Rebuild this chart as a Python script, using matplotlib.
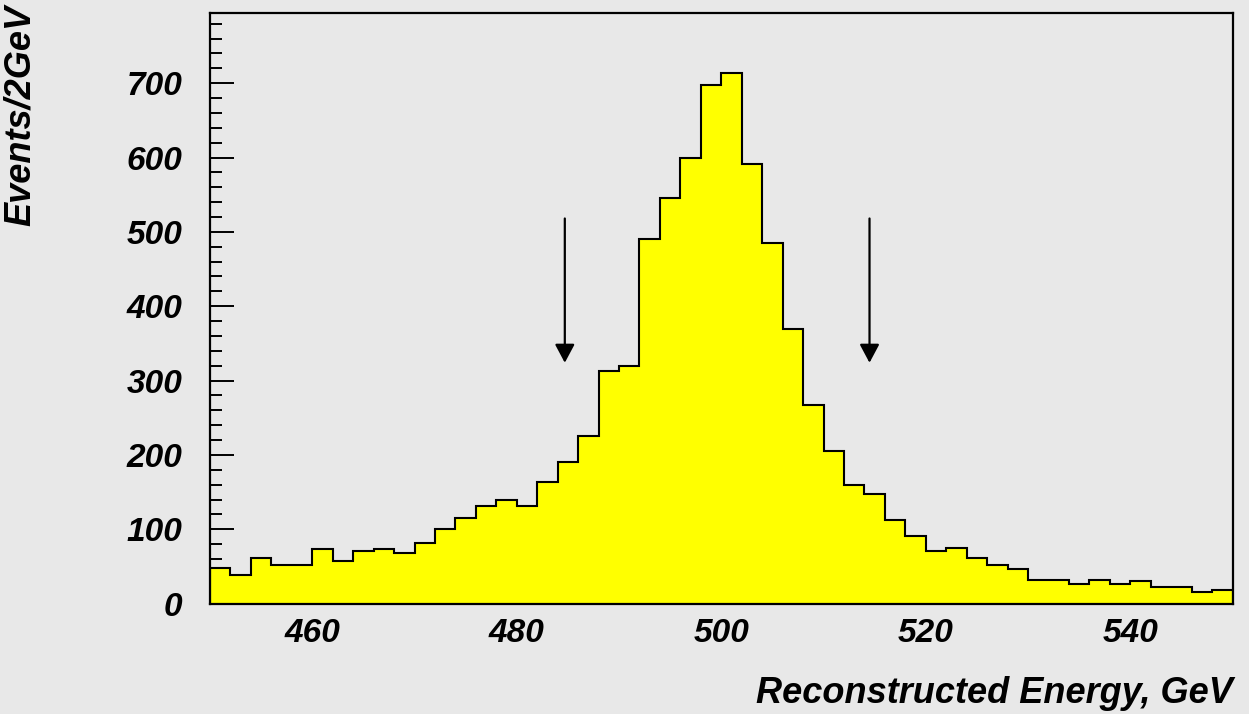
import matplotlib
matplotlib.use('Agg')
import matplotlib.pyplot as plt
from matplotlib.ticker import MultipleLocator
import numpy as np

plt.rcParams.update({
    'font.family': ['Liberation Sans', 'DejaVu Sans'],
    'font.weight': 'bold',
    'font.style': 'italic',
})

BG = '#e8e8e8'
FILL = '#ffff00'

# histogram: 50 bins of 2 GeV from 450 to 550
E_LO, E_HI, BIN_W = 450, 550, 2
counts = [
    48, 38, 61, 52, 52, 73, 57, 71, 73, 68,
    82, 100, 115, 131, 140, 131, 164, 191, 226, 313,
    320, 490, 545, 600, 698, 713, 591, 485, 369, 267,
    205, 159, 148, 112, 91, 71, 75, 62, 52, 46,
    32, 32, 27, 32, 27, 30, 23, 23, 16, 19,
]

# selection window arrows (x position, arrow top, arrow tip)
arrow_x = [484.7, 514.5]
arrow_top = 518
arrow_tip = 324

edges = np.arange(E_LO, E_HI + BIN_W, BIN_W)

fig = plt.figure(figsize=(12.49, 7.14), dpi=100, facecolor=BG)
ax = fig.add_axes([210 / 1249, 1 - 603.7 / 714, (1232.5 - 210) / 1249, (603.7 - 12.5) / 714])
ax.set_facecolor(BG)

ax.stairs(counts, edges, fill=True, color=FILL, zorder=2)
ax.stairs(counts, edges, color='black', linewidth=1.5, zorder=3)

for xa in arrow_x:
    ax.annotate('', xy=(xa, arrow_tip), xytext=(xa, arrow_top),
                arrowprops=dict(arrowstyle='-|>,head_length=0.75,head_width=0.4',
                                color='black', lw=1.6, mutation_scale=15,
                                shrinkA=0, shrinkB=0), zorder=4)

ax.set_xlim(E_LO, E_HI)
ax.set_ylim(0, 795)

ax.xaxis.set_major_locator(MultipleLocator(20))
ax.xaxis.set_minor_locator(MultipleLocator(5))
ax.yaxis.set_major_locator(MultipleLocator(100))
ax.yaxis.set_minor_locator(MultipleLocator(20))

ax.tick_params(axis='both', which='both', direction='in', width=1.4,
               top=False, right=False, labelsize=24, zorder=5)
ax.tick_params(axis='x', which='major', length=16, pad=10)
ax.tick_params(axis='x', which='minor', length=9)
ax.tick_params(axis='y', which='major', length=17, pad=20)
ax.tick_params(axis='y', which='minor', length=8.5)
for t in ax.get_xticklabels() + ax.get_yticklabels():
    t.set_fontweight('bold')
    t.set_fontstyle('italic')

for s in ax.spines.values():
    s.set_linewidth(1.6)
    s.set_zorder(6)

ax.set_xlabel('Reconstructed Energy, GeV', loc='right', fontsize=26,
              fontweight='bold', fontstyle='italic', labelpad=20)
ax.set_ylabel('Events/2GeV', loc='top', fontsize=26,
              fontweight='bold', fontstyle='italic')
ax.yaxis.set_label_coords(-0.168, 1.013)

fig.savefig('out.png', dpi=100, facecolor=BG)
